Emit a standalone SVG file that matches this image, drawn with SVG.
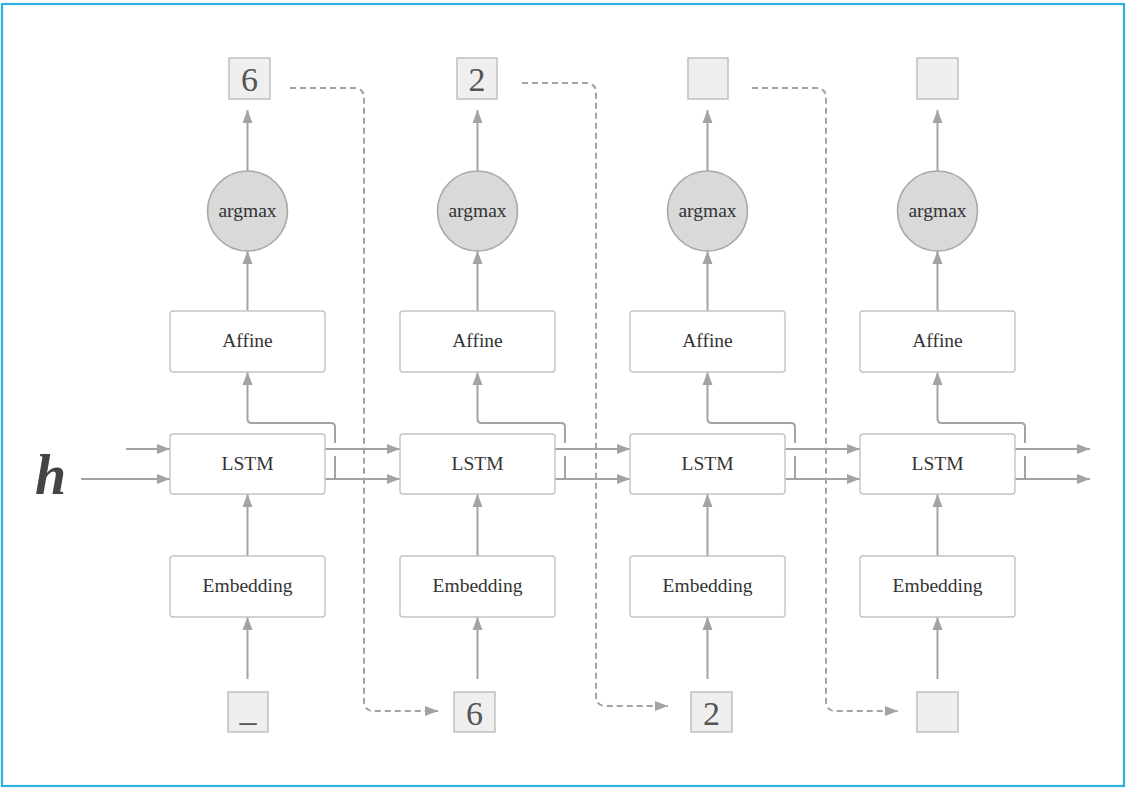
<svg xmlns="http://www.w3.org/2000/svg" width="1130" height="789" viewBox="0 0 1130 789">
  <defs>
    <marker id="arr" markerUnits="userSpaceOnUse" markerWidth="14" markerHeight="12" viewBox="0 0 14 12" refX="13" refY="6" orient="auto">
      <path d="M0,1 L13,6 L0,11 Z" fill="#a3a3a3"/>
    </marker>
    <marker id="arrd" markerUnits="userSpaceOnUse" markerWidth="14" markerHeight="12" viewBox="0 0 14 12" refX="13" refY="6" orient="auto">
      <path d="M0,1 L13,6 L0,11 Z" fill="#a3a3a3"/>
    </marker>
  </defs>
  <style>
    .frame { fill: #ffffff; stroke: #2ab3df; stroke-width: 2.2; }
    .layer { fill: #ffffff; stroke: #c4c4c4; stroke-width: 1.4; }
    .op { fill: #d9d9d9; stroke: #a8a8a8; stroke-width: 1.6; }
    .tok { fill: #efefef; stroke: #bcbcbc; stroke-width: 1.4; }
    .lbl { font-family: "Liberation Serif", "DejaVu Serif", serif; font-size: 19.5px; fill: #333; text-anchor: middle; }
    .digit { font-family: "Liberation Serif", "DejaVu Serif", serif; font-size: 34px; fill: #555; text-anchor: middle; }
    .var { font-family: "Liberation Serif", "DejaVu Serif", serif; font-size: 56px; font-weight: bold; font-style: italic; fill: #444; }
    .wire { fill: none; stroke: #a3a3a3; stroke-width: 2; marker-end: url(#arr); }
    .feed { fill: none; stroke: #a3a3a3; stroke-width: 2; stroke-dasharray: 6 4; marker-end: url(#arrd); }
  </style>

  <rect class="frame" x="2" y="4" width="1122" height="782"/>

  <!-- initial hidden state -->
  <text class="var" x="35" y="494">h</text>

  <!-- connectors -->
  <g id="connectors">
    <!-- incoming state lines -->
    <line class="wire" x1="126" y1="449" x2="170" y2="449"/>
    <line class="wire" x1="81" y1="479" x2="170" y2="479"/>

    <!-- step 1 -->
    <line class="wire" x1="247.5" y1="679" x2="247.5" y2="617"/>
    <line class="wire" x1="247.5" y1="556" x2="247.5" y2="494"/>
    <path class="wire" d="M335,479 V456 M335,443 V427 Q335,423 331,423 H251.5 Q247.5,423 247.5,419 V372"/>
    <line class="wire" x1="247.5" y1="311" x2="247.5" y2="251"/>
    <line class="wire" x1="247.5" y1="171" x2="247.5" y2="110"/>
    <line class="wire" x1="324" y1="449" x2="400" y2="449"/>
    <line class="wire" x1="324" y1="479" x2="400" y2="479"/>

    <!-- step 2 -->
    <line class="wire" x1="477.5" y1="679" x2="477.5" y2="617"/>
    <line class="wire" x1="477.5" y1="556" x2="477.5" y2="494"/>
    <path class="wire" d="M565,479 V456 M565,443 V427 Q565,423 561,423 H481.5 Q477.5,423 477.5,419 V372"/>
    <line class="wire" x1="477.5" y1="311" x2="477.5" y2="251"/>
    <line class="wire" x1="477.5" y1="171" x2="477.5" y2="110"/>
    <line class="wire" x1="555" y1="449" x2="630" y2="449"/>
    <line class="wire" x1="555" y1="479" x2="630" y2="479"/>

    <!-- step 3 -->
    <line class="wire" x1="707.5" y1="679" x2="707.5" y2="617"/>
    <line class="wire" x1="707.5" y1="556" x2="707.5" y2="494"/>
    <path class="wire" d="M795,479 V456 M795,443 V427 Q795,423 791,423 H711.5 Q707.5,423 707.5,419 V372"/>
    <line class="wire" x1="707.5" y1="311" x2="707.5" y2="251"/>
    <line class="wire" x1="707.5" y1="171" x2="707.5" y2="110"/>
    <line class="wire" x1="785" y1="449" x2="860" y2="449"/>
    <line class="wire" x1="785" y1="479" x2="860" y2="479"/>

    <!-- step 4 -->
    <line class="wire" x1="937.5" y1="679" x2="937.5" y2="617"/>
    <line class="wire" x1="937.5" y1="556" x2="937.5" y2="494"/>
    <path class="wire" d="M1025,479 V456 M1025,443 V427 Q1025,423 1021,423 H941.5 Q937.5,423 937.5,419 V372"/>
    <line class="wire" x1="937.5" y1="311" x2="937.5" y2="251"/>
    <line class="wire" x1="937.5" y1="171" x2="937.5" y2="110"/>
    <line class="wire" x1="1015" y1="449" x2="1090" y2="449"/>
    <line class="wire" x1="1015" y1="479" x2="1090" y2="479"/>

    <!-- sampled token fed back as next input -->
    <path class="feed" d="M290,88 H354 Q364,88 364,98 V701 Q364,711 374,711 H438"/>
    <path class="feed" d="M522,83 H586 Q596,83 596,93 V696 Q596,706 606,706 H668"/>
    <path class="feed" d="M752,88 H816 Q826,88 826,98 V701 Q826,711 836,711 H898"/>
  </g>

  <!-- step 1 nodes -->
  <g id="emb1"><rect class="layer" x="170" y="556" width="155" height="61" rx="3"/><text class="lbl" x="247.5" y="592">Embedding</text></g>
  <g id="lstm1"><rect class="layer" x="170" y="434" width="155" height="60" rx="3"/><text class="lbl" x="247.5" y="470">LSTM</text></g>
  <g id="affine1"><rect class="layer" x="170" y="311" width="155" height="61" rx="3"/><text class="lbl" x="247.5" y="347">Affine</text></g>
  <g id="argmax1"><circle class="op" cx="247.5" cy="211" r="40"/><text class="lbl" x="247.5" y="217">argmax</text></g>
  <g id="out1"><rect class="tok" x="229" y="58" width="41" height="41"/><text class="digit" x="249.5" y="91">6</text></g>
  <g id="in1"><rect class="tok" x="228" y="692" width="40" height="40"/><text class="digit" x="248" y="721">_</text></g>

  <!-- step 2 nodes -->
  <g id="emb2"><rect class="layer" x="400" y="556" width="155" height="61" rx="3"/><text class="lbl" x="477.5" y="592">Embedding</text></g>
  <g id="lstm2"><rect class="layer" x="400" y="434" width="155" height="60" rx="3"/><text class="lbl" x="477.5" y="470">LSTM</text></g>
  <g id="affine2"><rect class="layer" x="400" y="311" width="155" height="61" rx="3"/><text class="lbl" x="477.5" y="347">Affine</text></g>
  <g id="argmax2"><circle class="op" cx="477.5" cy="211" r="40"/><text class="lbl" x="477.5" y="217">argmax</text></g>
  <g id="out2"><rect class="tok" x="457" y="58" width="40" height="41"/><text class="digit" x="477" y="91">2</text></g>
  <g id="in2"><rect class="tok" x="454" y="692" width="41" height="40"/><text class="digit" x="474.5" y="725">6</text></g>

  <!-- step 3 nodes -->
  <g id="emb3"><rect class="layer" x="630" y="556" width="155" height="61" rx="3"/><text class="lbl" x="707.5" y="592">Embedding</text></g>
  <g id="lstm3"><rect class="layer" x="630" y="434" width="155" height="60" rx="3"/><text class="lbl" x="707.5" y="470">LSTM</text></g>
  <g id="affine3"><rect class="layer" x="630" y="311" width="155" height="61" rx="3"/><text class="lbl" x="707.5" y="347">Affine</text></g>
  <g id="argmax3"><circle class="op" cx="707.5" cy="211" r="40"/><text class="lbl" x="707.5" y="217">argmax</text></g>
  <g id="out3"><rect class="tok" x="688" y="58" width="40" height="41"/></g>
  <g id="in3"><rect class="tok" x="691" y="692" width="41" height="40"/><text class="digit" x="711.5" y="725">2</text></g>

  <!-- step 4 nodes -->
  <g id="emb4"><rect class="layer" x="860" y="556" width="155" height="61" rx="3"/><text class="lbl" x="937.5" y="592">Embedding</text></g>
  <g id="lstm4"><rect class="layer" x="860" y="434" width="155" height="60" rx="3"/><text class="lbl" x="937.5" y="470">LSTM</text></g>
  <g id="affine4"><rect class="layer" x="860" y="311" width="155" height="61" rx="3"/><text class="lbl" x="937.5" y="347">Affine</text></g>
  <g id="argmax4"><circle class="op" cx="937.5" cy="211" r="40"/><text class="lbl" x="937.5" y="217">argmax</text></g>
  <g id="out4"><rect class="tok" x="917" y="58" width="41" height="41"/></g>
  <g id="in4"><rect class="tok" x="917" y="692" width="41" height="40"/></g>
</svg>
